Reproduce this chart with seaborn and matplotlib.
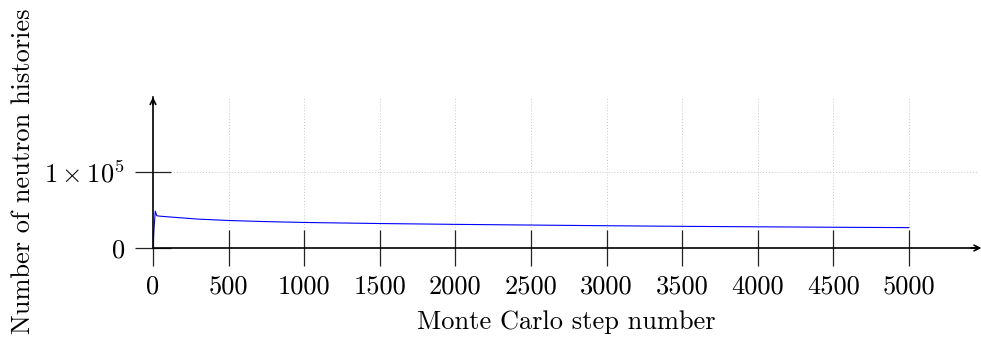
import matplotlib
matplotlib.use("Agg")
import matplotlib.pyplot as plt
import seaborn as sns
import pandas as pd

steps = [0, 5, 15, 25, 40, 100, 200, 300, 500, 750, 1000, 1500, 2000, 2500, 3000, 3500, 4000, 4500, 5000]
histories = [0, 20000, 48500, 42500, 42000, 41000, 39500, 38000, 36200, 34700, 33600, 32200, 31100, 30200, 29300, 28500, 27900, 27300, 26800]
xticks = [0, 500, 1000, 1500, 2000, 2500, 3000, 3500, 4000, 4500, 5000]
yticks = [0, 100000]
ytick_labels = ["0", r"$1\times10^{5}$"]

sns.set_style("white")
plt.rcParams["font.family"] = ["cmr10", "DejaVu Serif"]
plt.rcParams["mathtext.fontset"] = "cm"
plt.rcParams["axes.unicode_minus"] = False
plt.rcParams["axes.formatter.use_mathtext"] = True

df = pd.DataFrame({"step": steps, "histories": histories})

fig = plt.figure(figsize=(9.81, 3.45), dpi=100)
ax = fig.add_axes([153 / 981, (345 - 248) / 345, (979 - 153) / 981, (248 - 97) / 345])

sns.lineplot(data=df, x="step", y="histories", ax=ax, color="#0000ff", linewidth=0.8)

ax.set_xlim(0, (979 - 153) / 756 * 5000)
ax.set_ylim(0, 151 / 76 * 1e5)

for s in ["top", "right"]:
    ax.spines[s].set_visible(False)
for s in ["left", "bottom"]:
    ax.spines[s].set_linewidth(1.2)
    ax.spines[s].set_color("black")

ax.set_xticks(xticks)
ax.set_xticklabels([str(t) for t in xticks])
ax.set_yticks(yticks)
ax.set_yticklabels(ytick_labels)
ax.tick_params(axis="both", which="major", bottom=True, left=True, top=False, right=False,
               direction="inout", length=26.5, width=0.9, color="#222222",
               labelcolor="black", labelsize=19)
ax.tick_params(axis="x", pad=6)
ax.tick_params(axis="y", pad=7)

ax.grid(True, color="#c8c8c8", linestyle=(0, (1, 2)), linewidth=0.7)

ax.annotate("", xy=(1.003, 0), xytext=(0.99, 0), xycoords="axes fraction",
            arrowprops=dict(arrowstyle="->", color="black", lw=1.2, shrinkA=0, shrinkB=0), annotation_clip=False)
ax.annotate("", xy=(0, 1.0), xytext=(0, 0.95), xycoords="axes fraction",
            arrowprops=dict(arrowstyle="->", color="black", lw=1.2, shrinkA=0, shrinkB=0), annotation_clip=False)

ax.set_xlabel("Monte Carlo step number", fontsize=19, color="black")
ax.xaxis.set_label_coords(0.5, -0.41)
ax.set_ylabel("Number of neutron histories", fontsize=19, color="black")
ax.yaxis.set_label_coords(-0.143, 0.51)

fig.savefig("out.png", dpi=100)
